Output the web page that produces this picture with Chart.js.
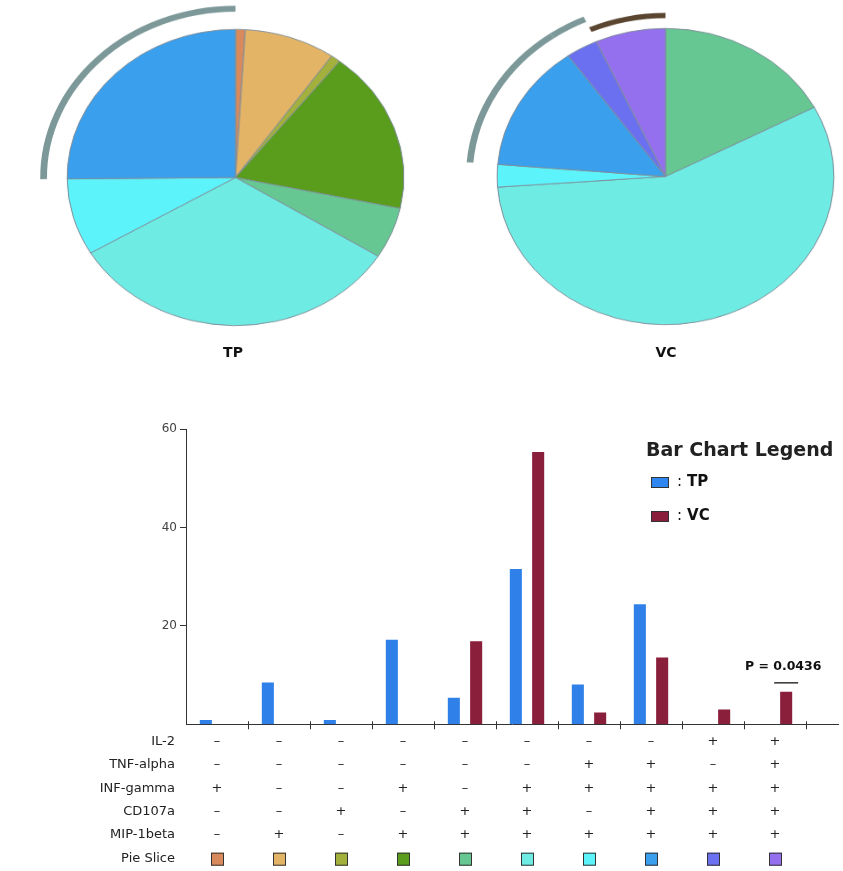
<!DOCTYPE html>
<html>
<head>
<meta charset="utf-8">
<title>TP / VC</title>
<script src="https://cdn.jsdelivr.net/npm/chart.js@4"></script>
<style>
    body { margin: 0; background: #fff; font-family: "DejaVu Sans", sans-serif; color: #111; }
    #page { position: relative; width: 843px; height: 871px; overflow: hidden; }
    #page canvas { position: absolute; }
    .pieTitle { position: absolute; font-size: 14px; font-weight: bold; transform: translate(-50%, -50%); }
    #legend { position: absolute; left: 646px; top: 440px; }
    #legend .titulo { font-size: 19px; font-weight: bold; line-height: 19px; color: #222; }
    #legend .item { position: relative; height: 38px; font-size: 15px; font-weight: bold; }
    #legend .sw { position: absolute; left: 5px; width: 16px; height: 9px; border: 1px solid #333; }
    #legend .txt { position: absolute; left: 31px; line-height: 16px; }
    #legend .dots { font-weight: normal; margin-right: 5px; }
</style>
</head>
<body>
<div id="page">
    <canvas id="pieTP" width="400" height="400" style="left:35.5px;top:1.5px;width:399px;height:351px"></canvas>
    <canvas id="pieVC" width="400" height="400" style="left:466px;top:1px;width:399px;height:351px"></canvas>
    <div class="pieTitle" style="left:233px;top:352px">TP</div>
    <div class="pieTitle" style="left:666px;top:352px">VC</div>
    <canvas id="barChart" width="843" height="471" style="left:0;top:400px;width:843px;height:471px"></canvas>
    <div id="legend"></div>
</div>
<script>
// combinaciones de marcadores (una columna por porción)
const marcadores = ["IL-2", "TNF-alpha", "INF-gamma", "CD107a", "MIP-1beta"];
const il2      = ["-", "-", "-", "-", "-", "-", "-", "-", "+", "+"];
const tnfAlpha = ["-", "-", "-", "-", "-", "-", "+", "+", "-", "+"];
const infGamma = ["+", "-", "-", "+", "-", "+", "+", "+", "+", "+"];
const cd107a   = ["-", "-", "+", "-", "+", "+", "-", "+", "+", "+"];
const mip1beta = ["-", "+", "-", "+", "+", "+", "+", "+", "+", "+"];
const filaPie  = "Pie Slice";

const series = ["TP", "VC"];
const valoresTP = [0.9, 8.5, 0.9, 17.2, 5.4, 31.6, 8.1, 24.4, 0, 0];
const valoresVC = [0, 0, 0, 0, 16.9, 55.4, 2.4, 13.6, 3.0, 6.6];
const ticksY = [20, 40, 60];
const textoP = "P = 0.0436";

const coloresPorcion = ["#d98a5c", "#e4b466", "#a3b03c", "#5a9c1c", "#66c792",
                        "#6eebe3", "#5df3fa", "#3a9fec", "#6a70ef", "#9470ee"];
const coloresSerie = ["#2f80e8", "#891f3b"];
const coloresLeyenda = ["#2f86f0", "#8a1f3b"];

// arcos exteriores: índices de porciones que cubren
const arcoGrisTP = [7];
const arcoGrisVC = [7, 8];
const arcoCafeVC = [9];

const filas = [il2, tnfAlpha, infGamma, cd107a, mip1beta];

function anillo(valores, indices, color, peso) {
    return {
        data: valores,
        weight: peso,
        backgroundColor: valores.map((v, i) => indices.includes(i) ? color : "rgba(0,0,0,0)"),
        borderWidth: 0,
        hoverBorderWidth: 0
    };
}

function crearPie(id, valores, anillos) {
    const pie = {
        data: valores,
        weight: 1,
        backgroundColor: coloresPorcion,
        borderColor: "#7f8e9a",
        borderWidth: 1,
        hoverBorderWidth: 0
    };
    new Chart(document.getElementById(id), {
        type: "pie",
        data: { labels: coloresPorcion.map((c, i) => String(i + 1)), datasets: [...anillos, pie] },
        options: {
            responsive: false,
            animation: false,
            events: [],
            layout: { padding: 0 },
            plugins: { legend: { display: false }, tooltip: { enabled: false } }
        }
    });
}

crearPie("pieTP", valoresTP, [
    anillo(valoresTP, [], "#fff", 0.025),
    anillo(valoresTP, arcoGrisTP, "#7c9898", 0.04),
    anillo(valoresTP, [], "#fff", 0.12)
]);

crearPie("pieVC", valoresVC, [
    anillo(valoresVC, arcoGrisVC, "#7c9898", 0.04),
    anillo(valoresVC, [], "#fff", 0.04),
    anillo(valoresVC, arcoCafeVC, "#5a4530", 0.035),
    anillo(valoresVC, [], "#fff", 0.07)
]);

// tabla de +/- y cuadros de color bajo el eje x
const tablaPlugin = {
    id: "tabla",
    afterDraw(chart) {
        const { ctx, chartArea, scales: { x } } = chart;
        const y0 = chartArea.bottom + 17.4;
        const paso = 23.3;
        ctx.save();

        // las marcas del eje x cruzan la línea
        ctx.strokeStyle = "#333";
        ctx.lineWidth = 1;
        x.ticks.forEach((t, i) => {
            const px = Math.round(x.getPixelForTick(i)) + 0.5;
            ctx.beginPath();
            ctx.moveTo(px, chartArea.bottom - 3);
            ctx.lineTo(px, chartArea.bottom);
            ctx.stroke();
        });

        ctx.fillStyle = "#222";
        ctx.textBaseline = "middle";
        ctx.font = '13px "DejaVu Sans"';
        filas.forEach((fila, r) => {
            const y = y0 + r * paso;
            ctx.textAlign = "right";
            ctx.fillText(marcadores[r], 175, y);
            ctx.textAlign = "center";
            fila.forEach((s, i) => {
                ctx.fillText(s === "+" ? "+" : "\u2013", x.getPixelForValue(i + 1), y);
            });
        });
        const yPie = y0 + filas.length * paso;
        ctx.textAlign = "right";
        ctx.fillText(filaPie, 175, yPie);
        coloresPorcion.forEach((c, i) => {
            const cx = Math.round(x.getPixelForValue(i + 1));
            ctx.fillStyle = c;
            ctx.fillRect(cx - 6, yPie - 5.5, 13, 13);
            ctx.strokeStyle = "#333";
            ctx.lineWidth = 1;
            ctx.strokeRect(cx - 5.5, yPie - 5, 12, 12);
        });

        // valor p sobre la última barra VC
        const barra = chart.getDatasetMeta(1).data[valoresVC.length - 1];
        ctx.fillStyle = "#111";
        ctx.textAlign = "center";
        ctx.font = 'bold 12.5px "DejaVu Sans"';
        ctx.fillText(textoP, barra.x - 3, barra.y - 25);
        ctx.beginPath();
        ctx.moveTo(barra.x - 12, barra.y - 9);
        ctx.lineTo(barra.x + 12, barra.y - 9);
        ctx.strokeStyle = "#111";
        ctx.lineWidth = 1.3;
        ctx.stroke();
        ctx.restore();
    }
};

new Chart(document.getElementById("barChart"), {
    type: "bar",
    data: {
        datasets: [valoresTP, valoresVC].map((vals, k) => ({
            label: series[k],
            data: vals.map((v, i) => ({ x: i + 1, y: v })),
            backgroundColor: coloresSerie[k],
            borderWidth: 0,
            categoryPercentage: 0.72,
            barPercentage: 0.54
        }))
    },
    options: {
        responsive: false,
        animation: false,
        events: [],
        layout: { padding: { top: 29.3, right: 5, left: 0, bottom: 0 } },
        plugins: { legend: { display: false }, tooltip: { enabled: false } },
        scales: {
            x: {
                type: "linear",
                offset: false,
                min: 0.5,
                max: 11.016,
                afterBuildTicks: s => { s.ticks = il2.map((c, i) => ({ value: i + 1.5 })); },
                afterFit: s => { s.height = 146.7; },
                ticks: { display: false },
                grid: { offset: false, drawOnChartArea: false, tickLength: 5, color: "#333" },
                border: { color: "#333", width: 1 }
            },
            y: {
                min: 0,
                max: 60,
                afterBuildTicks: s => { s.ticks = ticksY.map(v => ({ value: v })); },
                afterFit: s => { s.width = 186; },
                ticks: { color: "#444", font: { family: "DejaVu Sans", size: 12 }, padding: 3 },
                grid: { drawOnChartArea: false, tickLength: 6, color: "#333" },
                border: { color: "#333", width: 1 }
            }
        }
    },
    plugins: [tablaPlugin]
});

// leyenda de barras
const leyenda = document.getElementById("legend");
leyenda.innerHTML = `<div class="titulo">Bar Chart Legend</div><div style="height:14px"></div>`;
series.forEach((s, k) => {
    leyenda.innerHTML += `<div class="item">
        <span class="sw" style="background:${coloresLeyenda[k]};top:${k === 0 ? 4 : 0}px"></span>
        <span class="txt" style="top:${k === 0 ? 0 : -4}px"><span class="dots">:</span>${s}</span>
    </div>`;
});
</script>
</body>
</html>
